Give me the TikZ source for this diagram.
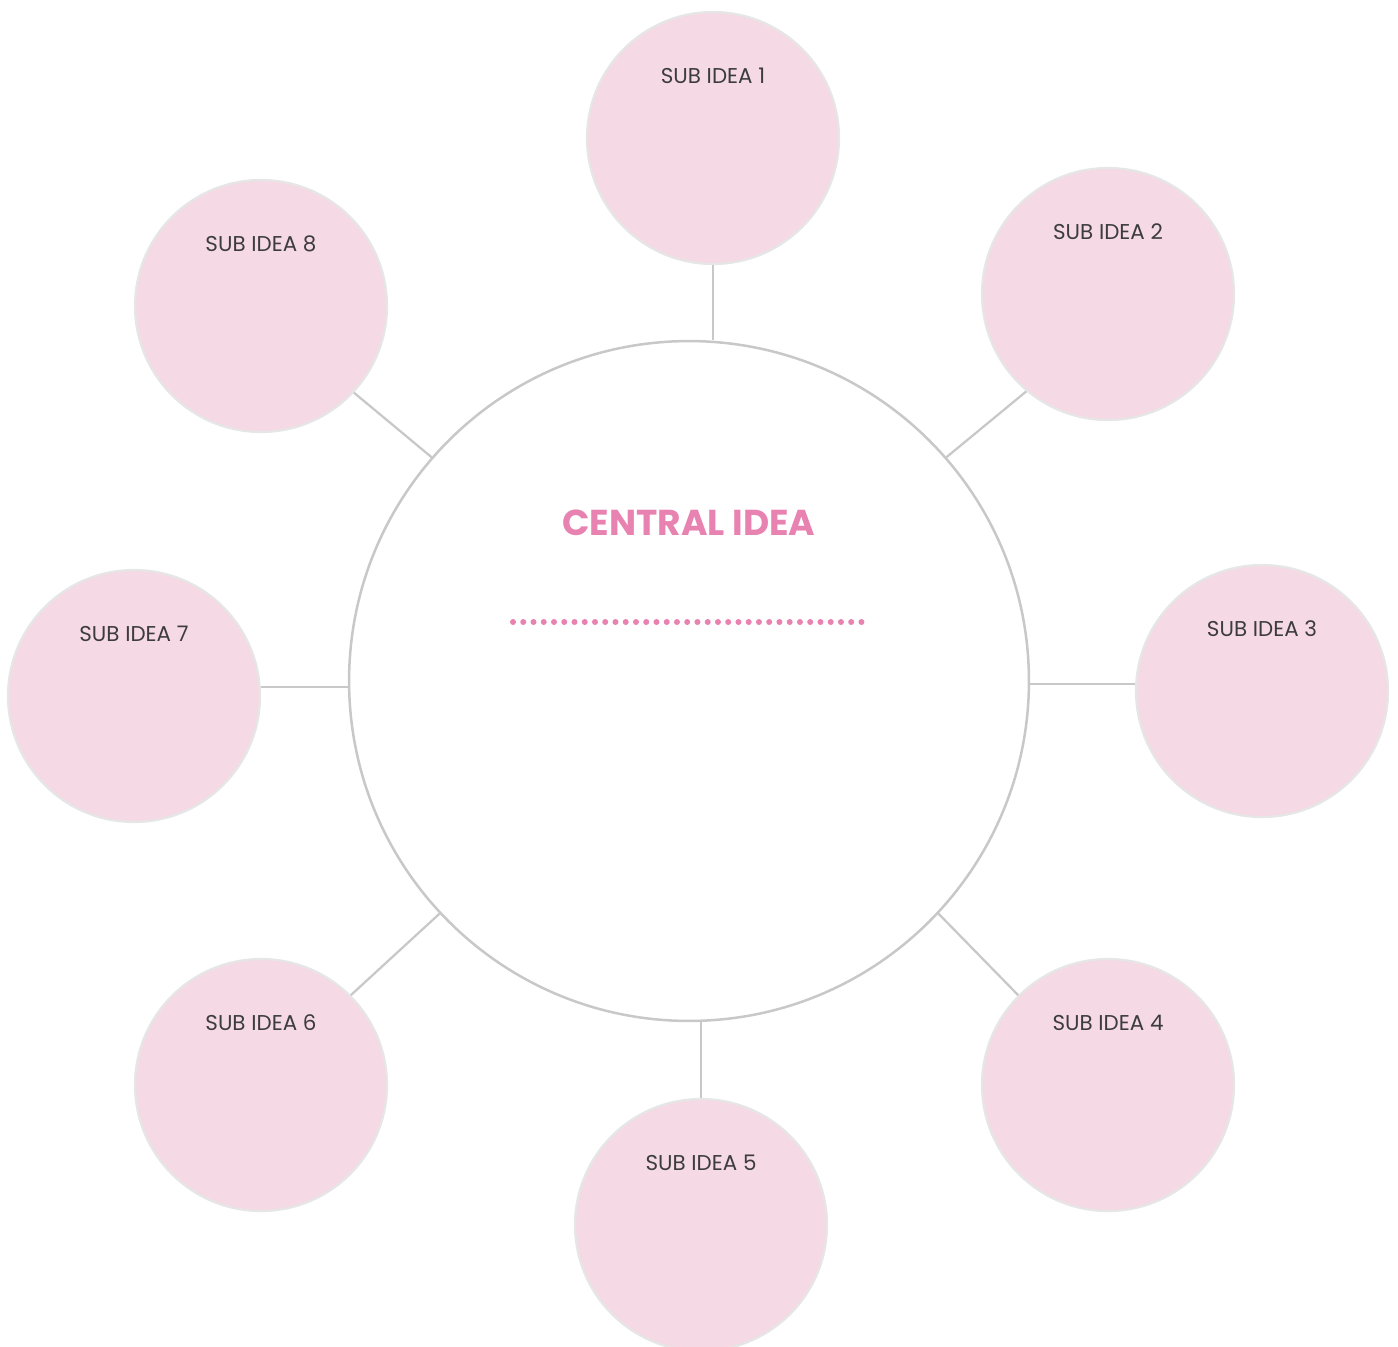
\documentclass[tikz,border=0pt]{standalone}
\usepackage{fontspec}
\setmainfont{Poppins}
\usetikzlibrary{positioning}

\definecolor{subfill}{HTML}{F5D9E4}
\definecolor{subedge}{HTML}{E6E6E6}
\definecolor{hubedge}{HTML}{C8C8C8}
\definecolor{hubpink}{HTML}{E882B0}
\definecolor{labelgray}{HTML}{3C3C3C}

\tikzset{
  hub/.style={circle, draw=hubedge, fill=white, line width=0.05cm, minimum size=13.6cm, inner sep=0pt},
  subidea/.style={circle, draw=subedge, fill=subfill, line width=0.045cm, minimum size=5.04cm, inner sep=0pt},
  sublabel/.style={font=\fontsize{12.2}{14}\selectfont, text=labelgray, inner sep=0pt},
  link/.style={draw=hubedge, line width=0.045cm},
  dotline/.style={draw=hubpink, line width=0.12cm, line cap=round, dash pattern=on 0pt off 0.2050cm}
}

\begin{document}
\begin{tikzpicture}[x=0.02cm, y=-0.02cm]
	\useasboundingbox (0,0) rectangle (1398,1346);

	% Central circle
	\node[hub] (c) at (689,681) {};
	\node[font=\fontsize{20.5}{24}\selectfont\bfseries, text=hubpink, inner sep=0pt] (ctitle) at (689,523) {CENTRAL IDEA};
	\coordinate (d0) at (513,622);
	\coordinate (d1) at (862,622);
	\draw[dotline] (d0) -- (d1);

	% Sub ideas round the hub
	\foreach \i/\x/\y in {1/713/138, 2/1108/294, 3/1262/691, 4/1108/1085,
	                      5/701/1225, 6/261/1085, 7/134/696, 8/261/306} {
		\node[subidea] (s\i) at (\x,\y) {};
		\node[sublabel] (l\i) at ([yshift=-1.3cm]s\i.north) {SUB IDEA \i};
	}

	% Links from each sub idea to the hub
	\foreach \i/\a/\b in {2/230/41, 4/135/-43, 6/45/-137, 8/-43/139}
		\draw[link] (s\i.\a) -- (c.\b);
	\draw[link] (s1.south) -- (s1.south |- c.north);
	\draw[link] (s5.north) -- (s5.north |- c.south);
	\draw[link] (s3.177) -- (s3.177 -| c.east);
	\draw[link] (s7.4) -- (s7.4 -| c.west);
\end{tikzpicture}
\end{document}
